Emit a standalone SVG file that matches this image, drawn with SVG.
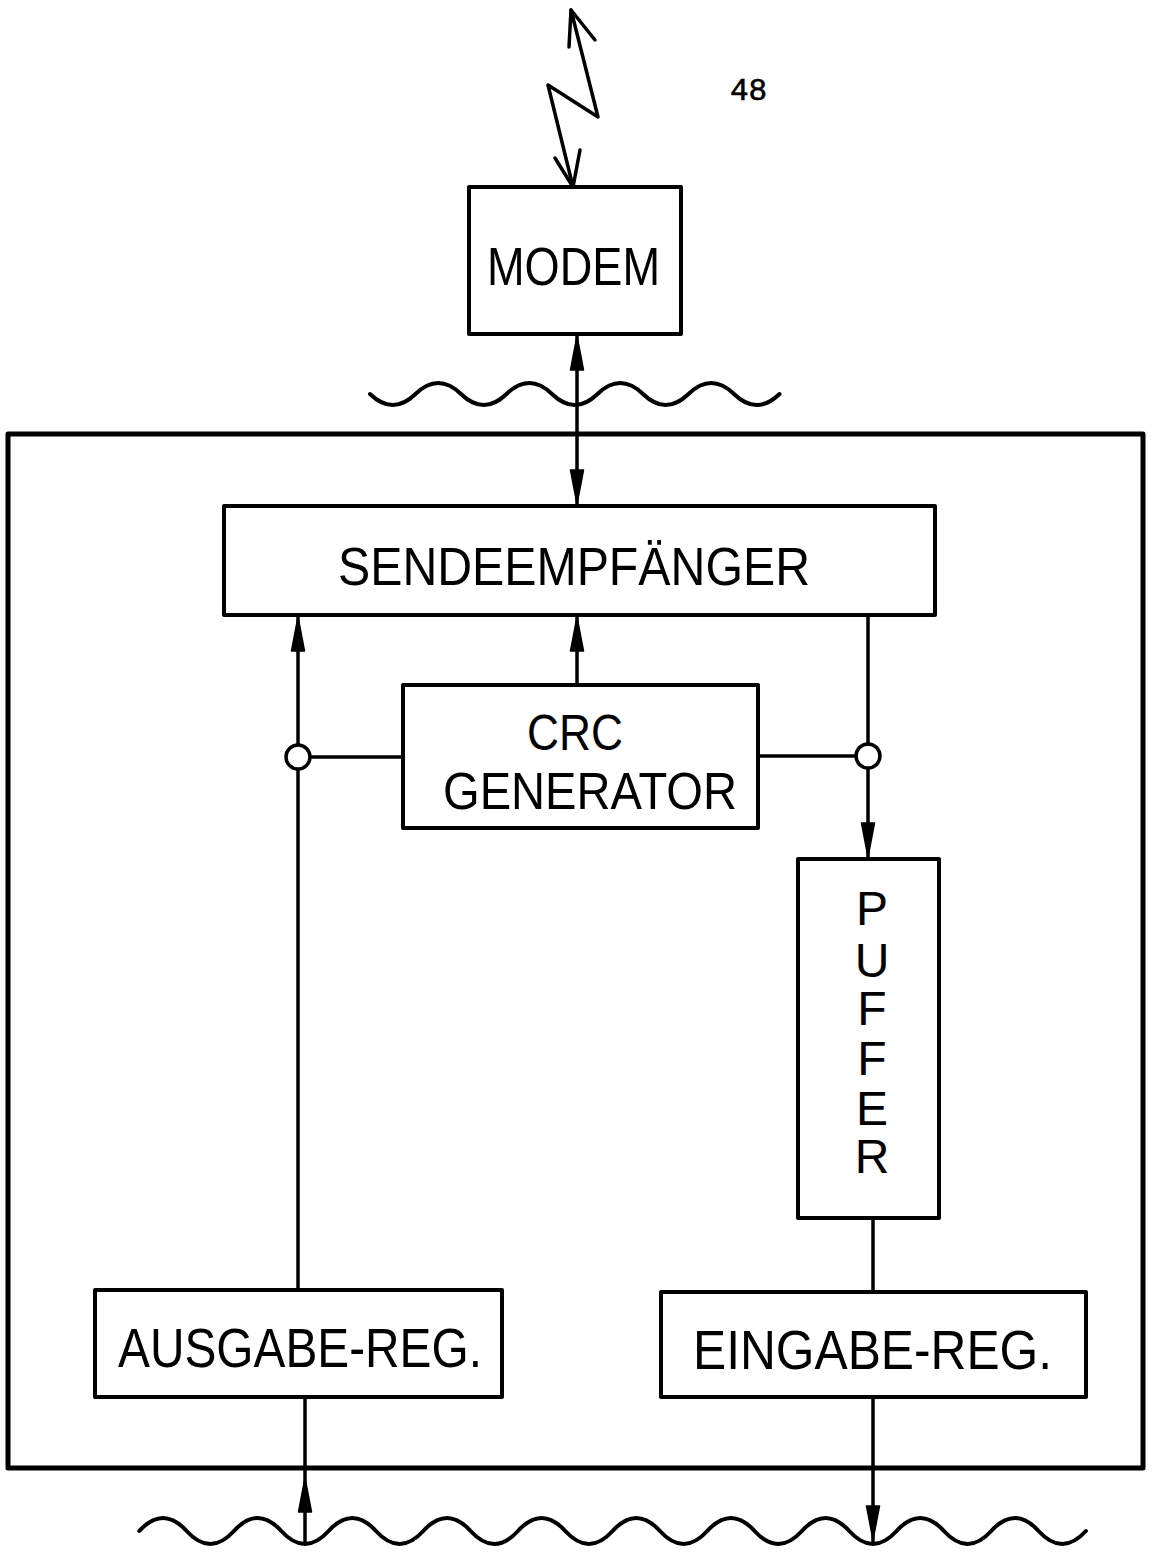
<svg xmlns="http://www.w3.org/2000/svg" xmlns:xlink="http://www.w3.org/1999/xlink" width="1157" height="1553" viewBox="0 0 1157 1553">
<style>
.box{fill:#fff;stroke:#000;stroke-width:4;stroke-linejoin:round}
.ln{fill:none;stroke:#000;stroke-width:3.5;stroke-linecap:round;stroke-linejoin:round}
.wave{fill:none;stroke:#000;stroke-width:4;stroke-linecap:round}
.lbl{font-family:"Liberation Sans",Arial,sans-serif;font-size:54px;fill:#000}
.vl{font-family:"Liberation Sans",Arial,sans-serif;font-size:48px;fill:#000;text-anchor:middle}
.num{font-family:"Liberation Mono","Courier New",monospace;font-size:31px;fill:#000;stroke:#000;stroke-width:0.6}
.jn{fill:#fff;stroke:#000;stroke-width:3.5}
</style>
<defs>
<path id="ah" d="M0,0 L-6.5,34 L6.5,34 Z" fill="#000" stroke="#000" stroke-width="1.5" stroke-linejoin="round"/>
</defs>
<rect width="1157" height="1553" fill="#fff"/>
<text class="num" x="730" y="100">48</text>
<g id="frame"><rect x="8" y="434" width="1135" height="1034" fill="none" stroke="#000" stroke-width="5" stroke-linejoin="round"/></g>
<g id="lightning">
<polyline class="ln" points="571,10 598,117 548,85 573,187"/>
<polyline class="ln" points="569,47 571,10 595,40"/>
<polyline class="ln" points="555,158 573,187 580,150"/>
</g>
<g id="waves">
<path class="wave" d="M370,394 q22.75,22 45.5,0 t45.5,0 t45.5,0 t45.5,0 t45.5,0 t45.5,0 t45.5,0 t45.5,0 t45.5,0"/>
<path class="wave" d="M139.3,1531 q23.67,-26 47.33,0 t47.33,0 t47.33,0 t47.33,0 t47.33,0 t47.33,0 t47.33,0 t47.33,0 t47.33,0 t47.33,0 t47.33,0 t47.33,0 t47.33,0 t47.33,0 t47.33,0 t47.33,0 t47.33,0 t47.33,0 t47.33,0 t47.33,0"/>
</g>
<g id="connectors">
<line class="ln" x1="577" y1="336" x2="577" y2="504"/>
<use xlink:href="#ah" transform="translate(577,336)"/>
<use xlink:href="#ah" transform="translate(577,504) rotate(180)"/>
<line class="ln" x1="298" y1="617" x2="298" y2="1290"/>
<use xlink:href="#ah" transform="translate(298,617)"/>
<line class="ln" x1="577" y1="617" x2="577" y2="685"/>
<use xlink:href="#ah" transform="translate(577,617)"/>
<line class="ln" x1="310" y1="757" x2="403" y2="757"/>
<line class="ln" x1="758" y1="756" x2="856" y2="756"/>
<line class="ln" x1="868" y1="615" x2="868" y2="857"/>
<use xlink:href="#ah" transform="translate(868,857) rotate(180)"/>
<line class="ln" x1="873" y1="1218" x2="873" y2="1292"/>
<line class="ln" x1="305" y1="1397" x2="305" y2="1543"/>
<use xlink:href="#ah" transform="translate(305,1478)"/>
<line class="ln" x1="873" y1="1397" x2="873" y2="1543"/>
<use xlink:href="#ah" transform="translate(873,1540) rotate(180)"/>
<circle class="jn" cx="298" cy="757" r="12"/>
<circle class="jn" cx="868" cy="756" r="12"/>
</g>
<g id="modem">
<rect class="box" x="469" y="187" width="212" height="147"/>
<text class="lbl" x="487" y="285" textLength="173" lengthAdjust="spacingAndGlyphs">MODEM</text>
</g>
<g id="sendeempfaenger">
<rect class="box" x="224" y="506" width="711" height="109"/>
<text class="lbl" x="338" y="585" textLength="472" lengthAdjust="spacingAndGlyphs">SENDEEMPFÄNGER</text>
</g>
<g id="crc">
<rect class="box" x="403" y="685" width="355" height="143"/>
<text class="lbl" x="527" y="750" textLength="96" lengthAdjust="spacingAndGlyphs" style="font-size:50px">CRC</text>
<text class="lbl" x="443" y="809" style="font-size:52px" textLength="294" lengthAdjust="spacingAndGlyphs">GENERATOR</text>
</g>
<g id="puffer">
<rect class="box" x="798" y="859" width="141" height="359"/>
<text class="vl" x="872" y="925">P</text>
<text class="vl" x="872" y="977">U</text>
<text class="vl" x="872" y="1025">F</text>
<text class="vl" x="872" y="1075">F</text>
<text class="vl" x="872" y="1125">E</text>
<text class="vl" x="872" y="1173">R</text>
</g>
<g id="ausgabe">
<rect class="box" x="95" y="1290" width="407" height="107"/>
<text class="lbl" x="118" y="1367" style="font-size:56px" textLength="364" lengthAdjust="spacingAndGlyphs">AUSGABE-REG.</text>
</g>
<g id="eingabe">
<rect class="box" x="661" y="1292" width="425" height="105"/>
<text class="lbl" x="693" y="1369" style="font-size:56px" textLength="359" lengthAdjust="spacingAndGlyphs">EINGABE-REG.</text>
</g>
</svg>
